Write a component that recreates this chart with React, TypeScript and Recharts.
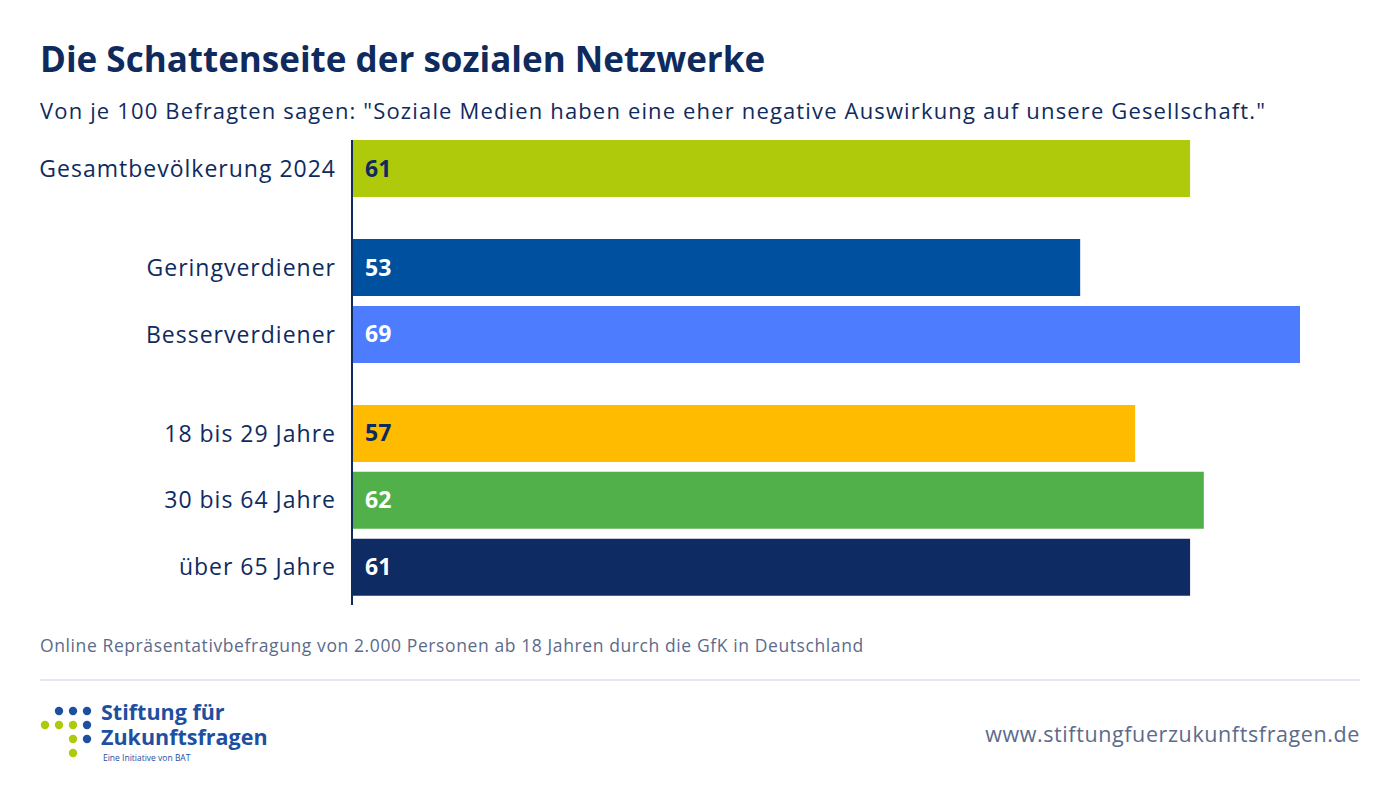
import React from "react";
import { BarChart, Bar, XAxis, YAxis, Cell, LabelList } from "recharts";

const categories = [
  "Gesamtbevölkerung 2024",
  "Geringverdiener",
  "Besserverdiener",
  "18 bis 29 Jahre",
  "30 bis 64 Jahre",
  "über 65 Jahre",
];
const values = [61, 53, 69, 57, 62, 61];
const groups = [0, 1, 1, 2, 2, 2];
const barColors = ["#afca0b", "#0050a0", "#4d7cfe", "#ffbb00", "#52b04a", "#0f2b63"];
const labelColors = ["#0f2b5e", "#ffffff", "#ffffff", "#0f2b5e", "#ffffff", "#ffffff"];

const NAVY = "#0f2b5e";
const FONT = "'Open Sans', sans-serif";
const GROUP_GAP = 0.48;

const rows = categories.map((name, i) => ({
  name,
  value: values[i],
  pos: i + groups[i] * GROUP_GAP,
}));
const positions = rows.map((r) => r.pos);

const tickName = (v: number) => {
  const r = rows.find((row) => Math.abs(row.pos - v) < 1e-6);
  return r ? r.name : "";
};

const renderValueLabel = (props: any) => {
  const { x, y, height, value, index } = props;
  return (
    <text
      x={Number(x) + 13}
      y={Number(y) + Number(height) / 2 - 1}
      dominantBaseline="central"
      fill={labelColors[index] ?? "#fff"}
      fontFamily={FONT}
      fontWeight={700}
      fontSize={23}
    >
      {value}
    </text>
  );
};

const dots = [
  { cx: 59, cy: 711, c: "#1e4fa0" },
  { cx: 73, cy: 711, c: "#1e4fa0" },
  { cx: 87, cy: 711, c: "#1e4fa0" },
  { cx: 45, cy: 725, c: "#afca0b" },
  { cx: 59, cy: 725, c: "#afca0b" },
  { cx: 73, cy: 725, c: "#afca0b" },
  { cx: 87, cy: 725, c: "#1e4fa0" },
  { cx: 73, cy: 739, c: "#afca0b" },
  { cx: 87, cy: 739, c: "#1e4fa0" },
  { cx: 73, cy: 753, c: "#afca0b" },
];

export default function App() {
  return (
    <div
      style={{
        position: "absolute",
        left: 0,
        top: 0,
        width: 1400,
        height: 789,
        background: "#ffffff",
        fontFamily: FONT,
        overflow: "hidden",
      }}
    >
      <div
        style={{
          position: "absolute",
          left: 40,
          top: 37,
          fontSize: 35,
          fontWeight: 700,
          color: NAVY,
          whiteSpace: "nowrap",
          lineHeight: "44px",
        }}
      >
        Die Schattenseite der sozialen Netzwerke
      </div>
      <div
        style={{
          position: "absolute",
          left: 40,
          top: 95,
          fontSize: 22,
          fontWeight: 500,
          color: NAVY,
          whiteSpace: "nowrap",
          lineHeight: "30px",
          letterSpacing: 1.15,
        }}
      >
        Von je 100 Befragten sagen: "Soziale Medien haben eine eher negative Auswirkung auf unsere Gesellschaft."
      </div>

      <div style={{ position: "absolute", left: 0, top: 0 }}>
        <BarChart
          width={1400}
          height={789}
          data={rows}
          layout="vertical"
          margin={{ top: 140, right: 100, bottom: 184, left: 0 }}
        >
          <XAxis type="number" dataKey="value" domain={[0, 69]} hide />
          <YAxis
            type="number"
            dataKey="pos"
            domain={[-0.426, 6.525]}
            ticks={positions}
            interval={0}
            tickFormatter={tickName}
            width={352}
            tickLine={false}
            tickSize={0}
            tickMargin={16}
            axisLine={{ stroke: NAVY, strokeWidth: 2 }}
            tick={{ fill: NAVY, fontSize: 23, fontFamily: FONT, letterSpacing: 1 }}
            allowDataOverflow
          />
          <Bar dataKey="value" barSize={57} isAnimationActive={false}>
            {rows.map((r, i) => (
              <Cell key={r.name} fill={barColors[i]} />
            ))}
            <LabelList dataKey="value" content={renderValueLabel} />
          </Bar>
        </BarChart>
      </div>

      <div
        style={{
          position: "absolute",
          left: 40,
          top: 633,
          fontSize: 17.5,
          color: "#5b6b8c",
          whiteSpace: "nowrap",
          lineHeight: "24px",
          letterSpacing: 0.6,
        }}
      >
        Online Repräsentativbefragung von 2.000 Personen ab 18 Jahren durch die GfK in Deutschland
      </div>
      <div
        style={{
          position: "absolute",
          left: 40,
          top: 679,
          width: 1320,
          height: 2,
          background: "#e4e8f4",
        }}
      />

      <svg
        style={{ position: "absolute", left: 0, top: 0 }}
        width={120}
        height={789}
      >
        {dots.map((d, i) => (
          <circle key={i} cx={d.cx} cy={d.cy} r={4.2} fill={d.c} />
        ))}
      </svg>
      <div
        style={{
          position: "absolute",
          left: 101,
          top: 701,
          fontSize: 21.5,
          fontWeight: 700,
          color: "#1e4fa0",
          whiteSpace: "nowrap",
          lineHeight: "22px",
        }}
      >
        Stiftung für
      </div>
      <div
        style={{
          position: "absolute",
          left: 101,
          top: 726,
          fontSize: 21.5,
          fontWeight: 700,
          color: "#1e4fa0",
          whiteSpace: "nowrap",
          lineHeight: "22px",
        }}
      >
        Zukunftsfragen
      </div>
      <div
        style={{
          position: "absolute",
          left: 103,
          top: 752,
          fontSize: 8.5,
          fontWeight: 500,
          color: "#1e4fa0",
          whiteSpace: "nowrap",
          lineHeight: "11px",
        }}
      >
        Eine Initiative von BAT
      </div>

      <div
        style={{
          position: "absolute",
          right: 40,
          top: 720,
          fontSize: 21.5,
          color: "#5b6b8c",
          whiteSpace: "nowrap",
          lineHeight: "28px",
          letterSpacing: 0.6,
        }}
      >
        www.stiftungfuerzukunftsfragen.de
      </div>
    </div>
  );
}
